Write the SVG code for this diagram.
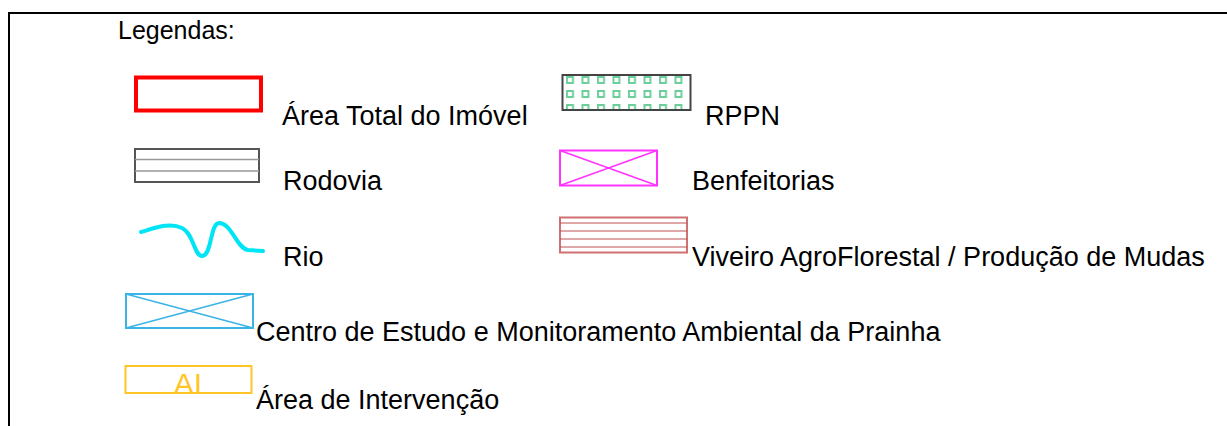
<svg xmlns="http://www.w3.org/2000/svg" width="1227" height="426" viewBox="0 0 1227 426">
<style>
text{font-family:"Liberation Sans",Arial,sans-serif;font-size:27px;fill:#000}
.frame{fill:none;stroke:#000;stroke-width:2}
.sq{fill:none;stroke:#6ccf9a;stroke-width:2}
</style>
<defs>
<pattern id="sqp" x="565" y="74" width="15.5" height="14" patternUnits="userSpaceOnUse">
<rect x="2" y="3" width="6" height="6" class="sq"/>
</pattern>
</defs>
<rect width="1227" height="426" fill="#fff"/>
<path class="frame" d="M9 426 V13 H1227"/>
<text x="118" y="39" style="font-size:25px">Legendas:</text>
<g id="area-total">
<rect x="136" y="77.5" width="125" height="33" fill="none" stroke="#ff0000" stroke-width="4"/>
<text x="282" y="125">Área Total do Imóvel</text>
</g>
<g id="rppn">
<rect x="562.5" y="75" width="128" height="35" fill="url(#sqp)" stroke="#444" stroke-width="2"/>
<text x="705" y="125">RPPN</text>
</g>
<g id="rodovia">
<rect x="135" y="149" width="124" height="33" fill="none" stroke="#555" stroke-width="2"/>
<path d="M135 159.5 H259 M135 171 H259" stroke="#999" stroke-width="1.5"/>
<text x="283" y="190">Rodovia</text>
</g>
<g id="benfeitorias">
<rect x="560" y="150.5" width="97" height="35" fill="none" stroke="#ff33ff" stroke-width="2"/>
<path d="M560 150.5 L657 185.5 M560 185.5 L657 150.5" stroke="#ff33ff" stroke-width="1.5"/>
<text x="692" y="190">Benfeitorias</text>
</g>
<g id="rio">
<path d="M141 232 C155 228 170 222 182 228 C194 234 194 256 202 256 C212 256 210 223 219 223 C232 223 236 248 248 250 L263 251" fill="none" stroke="#00e5f5" stroke-width="4" stroke-linecap="round" stroke-linejoin="round"/>
<text x="283" y="266">Rio</text>
</g>
<g id="viveiro">
<rect x="560" y="217.5" width="127" height="35" fill="none" stroke="#d07070" stroke-width="2"/>
<path d="M560 223 H687 M560 231 H687 M560 239 H687 M560 247 H687" stroke="#c05050" stroke-width="1.2"/>
<text x="692" y="266">Viveiro AgroFlorestal / Produção de Mudas</text>
</g>
<g id="centro">
<rect x="126" y="294" width="127" height="34" fill="none" stroke="#3ab4e6" stroke-width="2"/>
<path d="M126 294 L253 328 M126 328 L253 294" stroke="#3ab4e6" stroke-width="1.5"/>
<text x="256" y="341">Centro de Estudo e Monitoramento Ambiental da Prainha</text>
</g>
<g id="intervencao">
<rect x="125.5" y="366" width="126" height="27" fill="none" stroke="#ffc526" stroke-width="2"/>
<text x="188" y="394" text-anchor="middle" style="fill:#ffc526;font-size:30px">AI</text>
<text x="256" y="409">Área de Intervenção</text>
</g>
</svg>
